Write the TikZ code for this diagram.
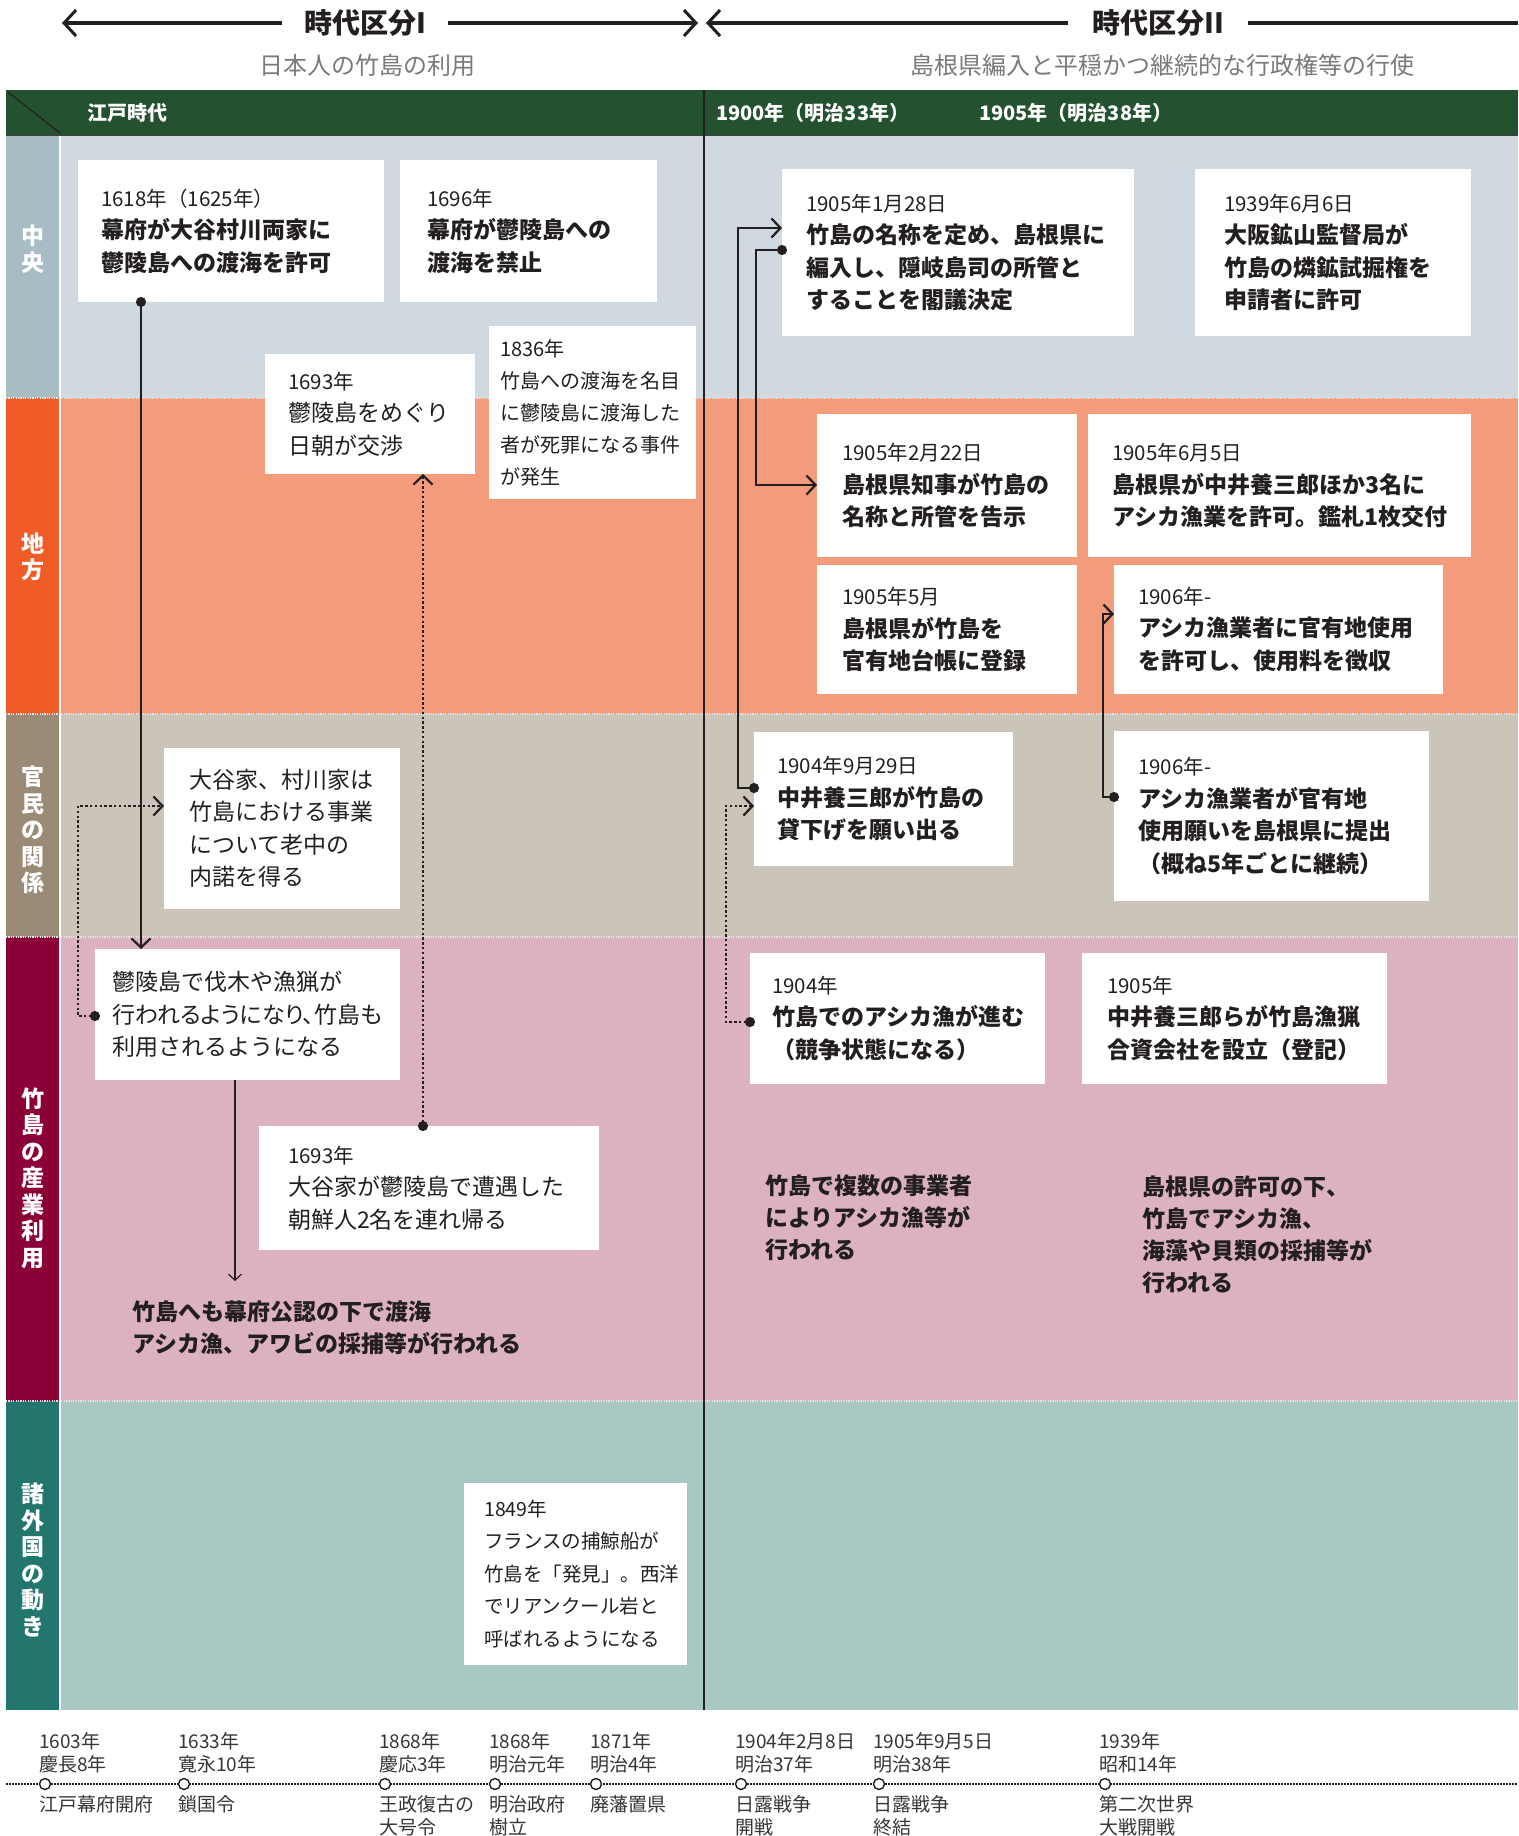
\documentclass[tikz,border=0pt]{standalone}
\usepackage{fontspec}
\setmainfont{Noto Sans CJK JP}
\newfontfamily\PropJP{Noto Sans CJK JP}[RawFeature=+palt]
\usetikzlibrary{arrows.meta,fit,calc}
\definecolor{ink}{HTML}{231F20}
\definecolor{hdrgreen}{HTML}{245130}
\definecolor{bgA}{HTML}{D0D9DF}\definecolor{lbA}{HTML}{A8BCC4}
\definecolor{bgB}{HTML}{F49B7B}\definecolor{lbB}{HTML}{F15B25}
\definecolor{bgC}{HTML}{CBC5B9}\definecolor{lbC}{HTML}{998B75}
\definecolor{bgD}{HTML}{DCB1C2}\definecolor{lbD}{HTML}{8B0036}
\definecolor{bgE}{HTML}{A8C8C3}\definecolor{lbE}{HTML}{23766D}
\definecolor{subgray}{HTML}{7A7A7A}
\newcommand\EvDate{\mdseries\fontsize{20.5}{32.5}\selectfont}
\newcommand\EvBox[8]{%
  \node[evbox, fit={(#2,#3) (#4,#5)}] (#1) {};
  \node[evtxt,#7] (#1t) at (#6,{(#3+#5)/2}) {#8};}
\begin{document}
\begin{tikzpicture}[x=1pt,y=-1pt,
  evbox/.style={fill=white, inner sep=0pt, outer sep=0pt},
  evtxt/.style={align=left, inner sep=0pt, anchor=west, text=ink, font=\fontsize{23}{32.5}\selectfont},
  bodyb/.style={font=\bfseries\fontsize{23}{32.5}\selectfont},
  bodyr/.style={font=\fontsize{23}{32.5}\selectfont},
  bodys/.style={font=\fontsize{20}{32}\selectfont},
  bodyxs/.style={font=\fontsize{19.5}{32.5}\selectfont},
  freetxt/.style={align=left, inner sep=0pt, anchor=west, text=ink, font=\bfseries\fontsize{23}{32}\selectfont},
  lbl/.style={align=center, inner sep=0pt, text=white, font=\bfseries\fontsize{23}{26.5}\selectfont},
  hdr/.style={anchor=west, inner sep=0pt, text=white, font=\bfseries\fontsize{20}{24}\selectfont},
  ttl/.style={inner sep=0pt, text=ink, font=\bfseries\fontsize{28}{32}\selectfont},
  subttl/.style={inner sep=0pt, text=subgray, font=\fontsize{24}{28}\selectfont},
  harrow/.style={ink, line width=3.5pt},
  hchev/.tip={Straight Barb[length=12pt,width=26pt,line width=3pt]},
  chev/.tip={Straight Barb[length=9pt,width=19pt,line width=2.2pt]},
  chevs/.tip={Straight Barb[length=6pt,width=13pt,line width=1.2pt]},
  edot/.tip={Circle[length=10pt,width=10pt]},
  conn/.style={ink, line width=2.2pt},
  dotc/.style={ink, line width=2.4pt, dash pattern=on 2.4pt off 2.4pt},
  thinc/.style={ink, line width=1.2pt},
  sepline/.style={white!78!gray, line width=1.2pt, dash pattern=on 1.2pt off 1.2pt},
  tlc/.style={circle, draw=ink, fill=white, line width=1.4pt, minimum size=11pt, inner sep=0pt},
  tlt/.style={align=left, anchor=west, inner sep=0pt, text=ink!90, font=\fontsize{19}{23}\selectfont}
]
\useasboundingbox (0,0) rectangle (1518,1836);
\fill[white] (0,0) rectangle (1518,1836);

% ---------- header titles ----------
\node[ttl] (T1) at (365,23) {時代区分I};
\node[ttl] (T2) at (1158,23) {時代区分II};
\node[subttl] (S1) at (367,65) {日本人の竹島の利用};
\node[subttl] (S2) at (1162,65) {島根県編入と平穏かつ継続的な行政権等の行使};
\coordinate (hIl) at (62,23);
\coordinate (hIr) at (698,23);
\coordinate (hIIl) at (706,23);
\coordinate (hIIr) at (1518,23);
\draw[harrow, hchev-] (hIl) -- ([xshift=-22pt]T1.west);
\draw[harrow, -hchev] ([xshift=22pt]T1.east) -- (hIr);
\draw[harrow, hchev-] (hIIl) -- ([xshift=-24pt]T2.west);
\draw[harrow] ([xshift=24pt]T2.east) -- (hIIr);

% ---------- green header ----------
\fill[hdrgreen] (6,90) rectangle (1518,135);
\draw[ink, line width=1.2pt] (8,92) -- (60,133);
\node[hdr] (H0) at (87,113) {江戸時代};
\node[hdr] (H1) at (716,113) {1900年（明治33年）};
\node[hdr] (H2) at (979,113) {1905年（明治38年）};

% ---------- bands ----------
\fill[bgA] (61,136) rectangle (1518,398); \fill[lbA] (6,136) rectangle (59,398);
\fill[bgB] (61,398) rectangle (1518,714); \fill[lbB] (6,398) rectangle (59,714);
\fill[bgC] (61,714) rectangle (1518,937); \fill[lbC] (6,714) rectangle (59,937);
\fill[bgD] (61,937) rectangle (1518,1401); \fill[lbD] (6,937) rectangle (59,1401);
\fill[bgE] (61,1401) rectangle (1518,1710); \fill[lbE] (6,1401) rectangle (59,1710);
\draw[ink!85, line width=1.5pt] (6,135.5) -- (1518,135.5);
\draw[sepline] (6,398) -- (1518,398);
\draw[sepline] (6,714) -- (1518,714);
\draw[sepline] (6,937) -- (1518,937);
\draw[sepline] (6,1401) -- (1518,1401);
\draw[ink, line width=2pt] (704,90) -- (704,1710);

\node[lbl] (L1) at (33,249) {中\\央};
\node[lbl] (L2) at (33,557) {地\\方};
\node[lbl] (L3) at (33,830) {官\\民\\の\\関\\係};
\node[lbl] (L4) at (33,1178) {竹\\島\\の\\産\\業\\利\\用};
\node[lbl] (L5) at (33,1560) {諸\\外\\国\\の\\動\\き};

% ---------- left period boxes ----------
\EvBox{b1}{78}{160}{384}{302}{101}{bodyb}{{\EvDate 1618年（1625年）}\\幕府が大谷村川両家に\\鬱陵島への渡海を許可}
\EvBox{b2}{400}{160}{657}{302}{427}{bodyb}{{\EvDate 1696年}\\幕府が鬱陵島への\\渡海を禁止}
\EvBox{b3}{265}{354}{475}{474}{288}{bodyr}{{\EvDate 1693年}\\鬱陵島をめぐり\\日朝が交渉}
\EvBox{b4}{489}{326}{696}{499}{500}{bodys}{1836年\\竹島への渡海を名目\\に鬱陵島に渡海した\\者が死罪になる事件\\が発生}
\EvBox{b17}{164}{748}{400}{909}{189}{bodyr}{大谷家、村川家は\\竹島における事業\\について老中の\\内諾を得る}
\EvBox{b18}{95}{949}{400}{1080}{112}{bodyr}{鬱陵島で伐木や漁猟が\\{\PropJP 行われるようになり、竹島も}\\利用されるようになる}
\EvBox{b19}{259}{1126}{599}{1250}{288}{bodyr}{{\EvDate 1693年}\\大谷家が鬱陵島で遭遇した\\朝鮮人2名を連れ帰る}
\EvBox{b21}{464}{1483}{687}{1665}{484}{bodyxs}{1849年\\フランスの捕鯨船が\\竹島を「発見」。西洋\\でリアンクール岩と\\呼ばれるようになる}
\node[freetxt] (f20) at (132,1328) {竹島へも幕府公認の下で渡海\\アシカ漁、アワビの採捕等が行われる};

% ---------- right period boxes ----------
\EvBox{b5}{782}{169}{1134}{336}{806}{bodyb}{{\EvDate 1905年1月28日}\\竹島の名称を定め、島根県に\\編入し、隠岐島司の所管と\\することを閣議決定}
\EvBox{b6}{1195}{169}{1471}{336}{1224}{bodyb}{{\EvDate 1939年6月6日}\\大阪鉱山監督局が\\竹島の燐鉱試掘権を\\申請者に許可}
\EvBox{b7}{817}{414}{1077}{557}{842}{bodyb}{{\EvDate 1905年2月22日}\\島根県知事が竹島の\\名称と所管を告示}
\EvBox{b8}{1088}{414}{1471}{557}{1112}{bodyb}{{\EvDate 1905年6月5日}\\島根県が中井養三郎ほか3名に\\アシカ漁業を許可。鑑札1枚交付}
\EvBox{b9}{817}{565}{1077}{694}{842}{bodyb}{{\EvDate 1905年5月}\\島根県が竹島を\\官有地台帳に登録}
\EvBox{b10}{1114}{565}{1443}{694}{1138}{bodyb}{{\EvDate 1906年-}\\アシカ漁業者に官有地使用\\を許可し、使用料を徴収}
\EvBox{b11}{754}{732}{1013}{866}{777}{bodyb}{{\EvDate 1904年9月29日}\\中井養三郎が竹島の\\貸下げを願い出る}
\EvBox{b12}{1114}{731}{1429}{901}{1138}{bodyb}{{\EvDate 1906年-}\\アシカ漁業者が官有地\\使用願いを島根県に提出\\（概ね5年ごとに継続）}
\EvBox{b13}{750}{953}{1045}{1084}{772}{bodyb}{{\EvDate 1904年}\\竹島でのアシカ漁が進む\\（競争状態になる）}
\EvBox{b14}{1082}{953}{1387}{1084}{1107}{bodyb}{{\EvDate 1905年}\\中井養三郎らが竹島漁猟\\合資会社を設立（登記）}
\node[freetxt] (f15) at (765,1218) {竹島で複数の事業者\\によりアシカ漁等が\\行われる};
\node[freetxt] (f16) at (1142,1235) {島根県の許可の下、\\竹島でアシカ漁、\\海藻や貝類の採捕等が\\行われる};

% ---------- connectors ----------
\coordinate (xA) at (141,0);
\draw[conn, edot-chev] ($(b1.south -| xA)+(0,-5)$) -- (b18.north -| xA);
\coordinate (xB) at (423,0);
\draw[dotc, edot-chev] ($(b19.north -| xB)+(0,5)$) -- (b3.south -| xB);
\draw[dotc, edot-chev] ($(b18.west |- 0,1016)+(5,0)$) -- (78,1016) -- (78,806) -- (b17.west |- 0,806);
\coordinate (dEnd) at (235,1281);
\draw[thinc, -chevs] (b18.south -| dEnd) -- (dEnd);
\draw[conn, edot-chev] ($(b11.west |- 0,788)+(5,0)$) -- (738,788) -- (738,228) -- (b5.west |- 0,228);
\draw[conn, edot-chev] ($(b5.west |- 0,250)+(5,0)$) -- (756,250) -- (756,485) -- (b7.west |- 0,485);
\draw[conn, edot-chev] ($(b12.west |- 0,797)+(5,0)$) -- (1103,797) -- (1103,614) -- (b10.west |- 0,614);
\draw[dotc, edot-chev] ($(b13.west |- 0,1022)+(5,0)$) -- (726,1022) -- (726,806) -- (b11.west |- 0,806);

% ---------- timeline ----------
\coordinate (tlL) at (6,1784);
\coordinate (tlR) at (1518,1784);
\draw[ink, line width=1.5pt, dash pattern=on 1.5pt off 1.5pt] (tlL) -- (tlR);
\foreach \n/\x in {1/45,2/184,3/385,4/495,5/596,6/741,7/879,8/1105}{
  \node[tlc] (tl\n) at (\x,1784) {};
}
\node[tlt] (tl1y) at ([xshift=-6pt]tl1.center |- 0,1752.5) {1603年\\慶長8年};
\node[tlt] (tl2y) at ([xshift=-6pt]tl2.center |- 0,1752.5) {1633年\\寛永10年};
\node[tlt] (tl3y) at ([xshift=-6pt]tl3.center |- 0,1752.5) {1868年\\慶応3年};
\node[tlt] (tl4y) at ([xshift=-6pt]tl4.center |- 0,1752.5) {1868年\\明治元年};
\node[tlt] (tl5y) at ([xshift=-6pt]tl5.center |- 0,1752.5) {1871年\\明治4年};
\node[tlt] (tl6y) at ([xshift=-6pt]tl6.center |- 0,1752.5) {1904年2月8日\\明治37年};
\node[tlt] (tl7y) at ([xshift=-6pt]tl7.center |- 0,1752.5) {1905年9月5日\\明治38年};
\node[tlt] (tl8y) at ([xshift=-6pt]tl8.center |- 0,1752.5) {1939年\\昭和14年};
\node[tlt] (tl1e) at ([xshift=-6pt]tl1.center |- 0,1804) {江戸幕府開府};
\node[tlt] (tl2e) at ([xshift=-6pt]tl2.center |- 0,1804) {鎖国令};
\node[tlt] (tl3e) at ([xshift=-6pt]tl3.center |- 0,1815.5) {王政復古の\\大号令};
\node[tlt] (tl4e) at ([xshift=-6pt]tl4.center |- 0,1815.5) {明治政府\\樹立};
\node[tlt] (tl5e) at ([xshift=-6pt]tl5.center |- 0,1804) {廃藩置県};
\node[tlt] (tl6e) at ([xshift=-6pt]tl6.center |- 0,1815.5) {日露戦争\\開戦};
\node[tlt] (tl7e) at ([xshift=-6pt]tl7.center |- 0,1815.5) {日露戦争\\終結};
\node[tlt] (tl8e) at ([xshift=-6pt]tl8.center |- 0,1815.5) {第二次世界\\大戦開戦};
\end{tikzpicture}
\end{document}
